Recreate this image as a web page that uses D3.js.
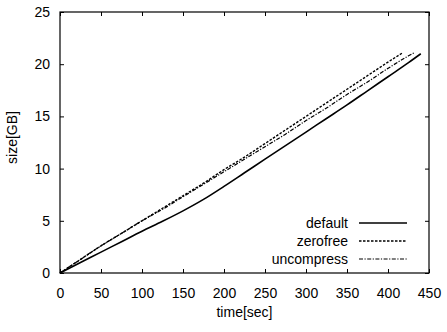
<!DOCTYPE html>
<html>
<head>
<meta charset="utf-8">
<script src="https://cdn.jsdelivr.net/npm/d3@7"></script>
<style>
  body { margin: 0; background: #fff; }
  text { font-family: "Liberation Sans", Arial, sans-serif; fill: #000; }
</style>
</head>
<body>
<div id="canvas"></div>
<script>
// values
const defaultTime = [0, 25, 50, 75, 100, 125, 150, 175, 200, 225, 250, 275, 300, 325, 350, 375, 400, 425, 440];
const defaultSize = [0, 1.0, 2.0, 3.0, 4.0, 4.95, 5.95, 7.05, 8.3, 9.6, 10.9, 12.2, 13.5, 14.8, 16.1, 17.45, 18.8, 20.15, 21.0];

const zerofreeTime = [0, 25, 50, 75, 100, 125, 150, 175, 200, 225, 250, 275, 300, 325, 350, 375, 400, 418];
const zerofreeSize = [0, 1.3, 2.6, 3.8, 5.0, 6.2, 7.4, 8.6, 9.9, 11.1, 12.4, 13.7, 15.0, 16.3, 17.6, 18.9, 20.2, 21.1];

const uncompressTime = [0, 25, 50, 75, 100, 125, 150, 175, 200, 225, 250, 275, 300, 325, 350, 375, 400, 425, 432];
const uncompressSize = [0, 1.3, 2.6, 3.8, 5.0, 6.1, 7.3, 8.5, 9.7, 10.9, 12.1, 13.3, 14.6, 15.8, 17.1, 18.3, 19.6, 20.8, 21.1];

const xTicks = [0, 50, 100, 150, 200, 250, 300, 350, 400, 450];
const yTicks = [0, 5, 10, 15, 20, 25];

const series = [
    { name: "default", time: defaultTime, size: defaultSize, dash: null, width: 1.6 },
    { name: "zerofree", time: zerofreeTime, size: zerofreeSize, dash: "2.5,1.5", width: 1.4 },
    { name: "uncompress", time: uncompressTime, size: uncompressSize, dash: "4,1.5,1.2,1.5", width: 1.2 }
];

const margin = { top: 12, right: 18, bottom: 59, left: 60 },
    width = 447 - margin.left - margin.right,
    height = 332 - margin.top - margin.bottom;

const svg = d3.select("#canvas")
    .append("svg")
    .attr("width", 447)
    .attr("height", 332)
    .append("g")
    .attr("transform", `translate(${margin.left},${margin.top})`);

const x = d3.scaleLinear().domain([0, 450]).range([0, width]);
const y = d3.scaleLinear().domain([0, 25]).range([height, 0]);

// axes, ticks point inward and are mirrored on top/right
const axBottom = svg.append("g")
    .attr("transform", `translate(0,${height})`)
    .call(d3.axisBottom(x).tickValues(xTicks).tickSizeInner(-4).tickSizeOuter(0).tickPadding(15));
const axTop = svg.append("g")
    .call(d3.axisTop(x).tickValues(xTicks).tickSizeInner(-4).tickSizeOuter(0).tickFormat(""));
const axLeft = svg.append("g")
    .call(d3.axisLeft(y).tickValues(yTicks).tickSizeInner(-4).tickSizeOuter(0).tickPadding(10));
const axRight = svg.append("g")
    .attr("transform", `translate(${width},0)`)
    .call(d3.axisRight(y).tickValues(yTicks).tickSizeInner(-4).tickSizeOuter(0).tickFormat(""));

[axBottom, axTop, axLeft, axRight].forEach(g => {
    g.select(".domain").remove();
    g.selectAll(".tick line").attr("stroke", "#000");
    g.selectAll("text").attr("font-size", 14).style("font-family", "Liberation Sans, Arial, sans-serif");
});
axBottom.selectAll("text").attr("dy", "0.71em");

// frame
svg.append("rect")
    .attr("width", width)
    .attr("height", height)
    .attr("fill", "none")
    .attr("stroke", "#000")
    .attr("stroke-width", 1.2);

// Draw Lines
series.forEach(s => {
    const pts = s.time.map((t, i) => [t, s.size[i]]);
    svg.append("path")
        .datum(pts)
        .attr("fill", "none")
        .attr("stroke", "#000")
        .attr("stroke-width", s.width)
        .attr("stroke-dasharray", s.dash)
        .attr("d", d3.line().curve(d3.curveMonotoneX).x(d => x(d[0])).y(d => y(d[1])));
});

// legend
const legend = svg.append("g").attr("transform", "translate(288,211)");
series.forEach((s, i) => {
    const row = legend.append("g").attr("transform", `translate(0,${i * 18})`);
    row.append("text")
        .attr("x", 0)
        .attr("y", 0)
        .attr("dy", "0.35em")
        .attr("text-anchor", "end")
        .attr("font-size", 14)
        .text(s.name);
    row.append("line")
        .attr("x1", 11)
        .attr("x2", 59)
        .attr("stroke", "#000")
        .attr("stroke-width", s.width)
        .attr("stroke-dasharray", s.dash);
});

// axis titles
svg.append("text")
    .attr("x", width / 2)
    .attr("y", height + 44)
    .attr("text-anchor", "middle")
    .attr("font-size", 14)
    .text("time[sec]");

svg.append("text")
    .attr("transform", `translate(-43,${height / 2 - 5}) rotate(-90)`)
    .attr("text-anchor", "middle")
    .attr("font-size", 14)
    .text("size[GB]");
</script>
</body>
</html>
